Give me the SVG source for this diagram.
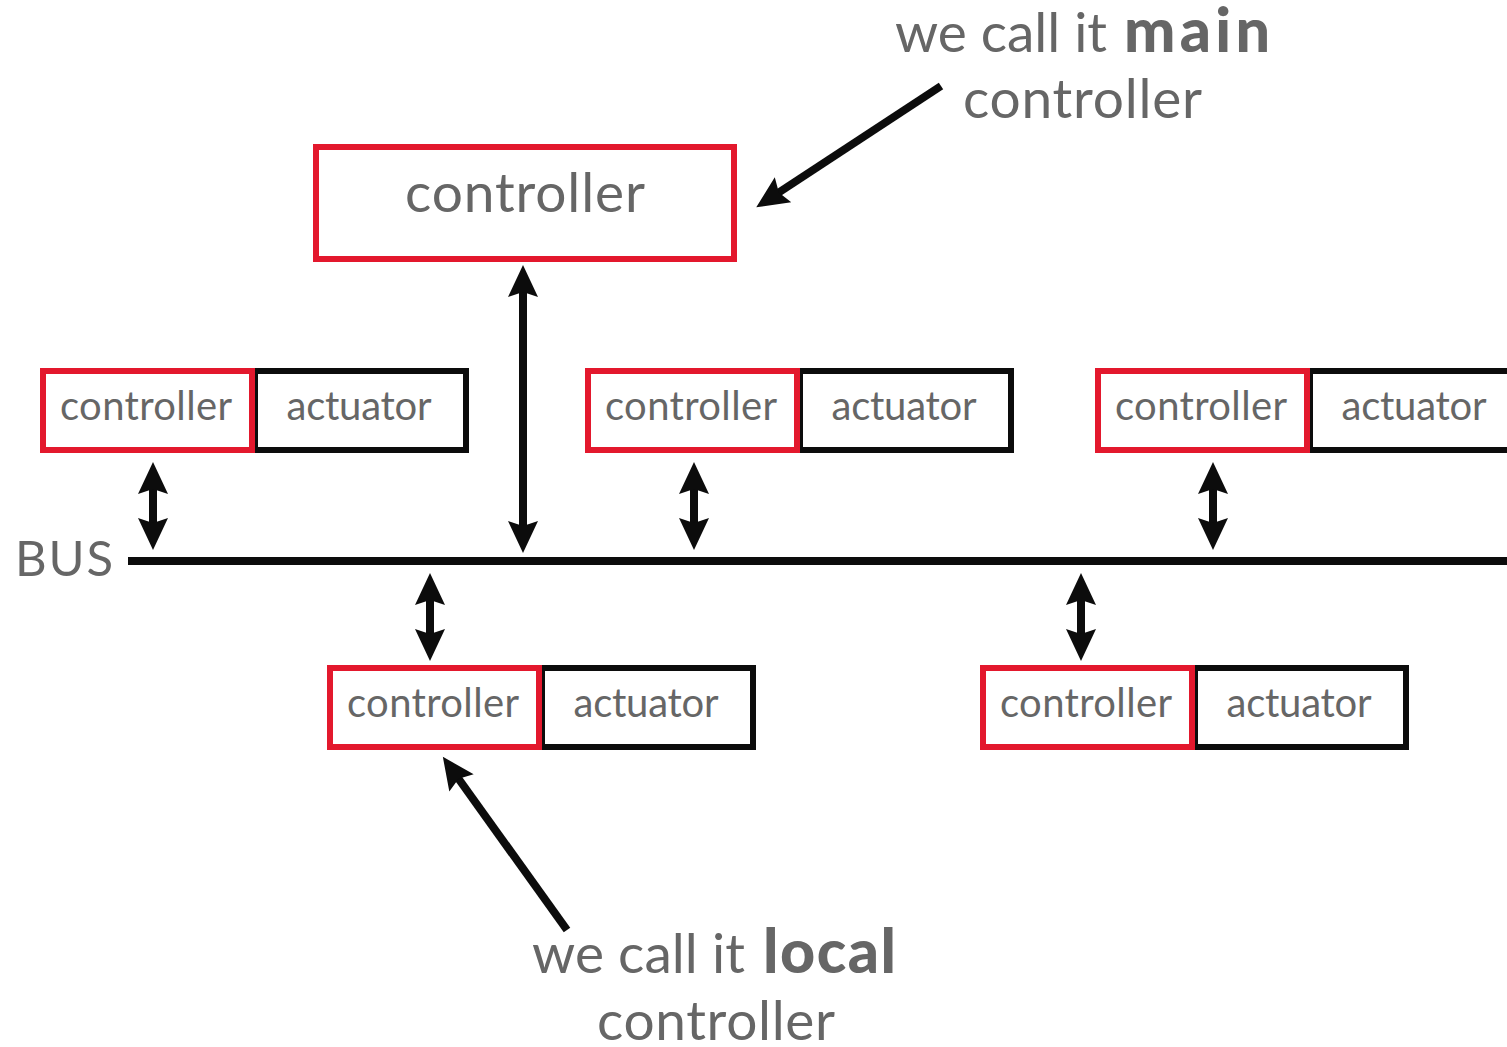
<svg xmlns="http://www.w3.org/2000/svg" width="1507" height="1047" viewBox="0 0 1507 1047">
  <style>
    .ctl { fill: #ffffff; stroke: #e3182d; stroke-width: 6; }
    .act { fill: #ffffff; stroke: #0c0c0c; stroke-width: 6; }
    .lbl { font-family: Lato, "Open Sans", "Liberation Sans", sans-serif; fill: #666666; text-anchor: middle; }
    .note { font-family: Lato, "Open Sans", "Liberation Sans", sans-serif; fill: #666666; font-size: 55px; }
    .sm { font-size: 40px; }
    .lg { font-size: 55px; }
    .bold { font-weight: 900; font-size: 61px; }
    .wire { stroke: #0c0c0c; stroke-width: 8; fill: none; }
  </style>
  <defs>
    <!-- notched filled arrowhead, tip at x=33 -->
    <marker id="head" markerUnits="userSpaceOnUse" markerWidth="34" markerHeight="32" viewBox="0 0 34 32" refX="7" refY="16" orient="auto-start-reverse">
      <path d="M33,16 L1,1 L6,16 L1,31 Z" fill="#0c0c0c"/>
    </marker>
    <!-- controller + actuator pair, origin at outer top-left of the red box -->
    <g id="pair">
      <rect class="act" x="215" y="3" width="211" height="79"/>
      <rect class="ctl" x="3" y="3" width="209" height="79"/>
      <text class="lbl sm" x="106" y="52" textLength="172">controller</text>
      <text class="lbl sm" x="319" y="52" textLength="145">actuator</text>
    </g>
  </defs>

  <rect width="1507" height="1047" fill="#ffffff"/>

  <!-- connectors -->
  <g id="connectors">
    <line class="wire" x1="128" y1="561" x2="1507" y2="561"/>
    <line class="wire" x1="523" y1="291" x2="523" y2="527" marker-start="url(#head)" marker-end="url(#head)"/>
    <line class="wire" x1="153" y1="488" x2="153" y2="524" marker-start="url(#head)" marker-end="url(#head)"/>
    <line class="wire" x1="694" y1="488" x2="694" y2="524" marker-start="url(#head)" marker-end="url(#head)"/>
    <line class="wire" x1="1213" y1="488" x2="1213" y2="524" marker-start="url(#head)" marker-end="url(#head)"/>
    <line class="wire" x1="430" y1="599" x2="430" y2="635" marker-start="url(#head)" marker-end="url(#head)"/>
    <line class="wire" x1="1081" y1="599" x2="1081" y2="635" marker-start="url(#head)" marker-end="url(#head)"/>
    <line class="wire" x1="941" y1="86" x2="778" y2="193" marker-end="url(#head)"/>
    <line class="wire" x1="567" y1="930" x2="458" y2="778" marker-end="url(#head)"/>
  </g>

  <text id="bus-label" class="note" x="15" y="576" textLength="98" style="font-size:49px">BUS</text>

  <g id="main-controller">
    <rect class="ctl" x="316" y="147" width="418" height="112"/>
    <text class="lbl lg" x="525" y="212" textLength="240">controller</text>
  </g>

  <use id="node-a" href="#pair" x="40" y="368"/>
  <use id="node-b" href="#pair" x="585" y="368"/>
  <use id="node-c" href="#pair" x="1095" y="368"/>
  <use id="node-d" href="#pair" x="327" y="665"/>
  <use id="node-e" href="#pair" x="980" y="665"/>

  <g id="note-main">
    <text class="note" y="52"><tspan x="895" textLength="212">we call it</tspan><tspan class="bold" x="1124" textLength="146">main</tspan></text>
    <text class="note" x="963" y="118" textLength="239">controller</text>
  </g>

  <g id="note-local">
    <text class="note" y="973"><tspan x="532" textLength="213">we call it</tspan><tspan class="bold" x="763" textLength="133">local</tspan></text>
    <text class="note" x="597" y="1040" textLength="238">controller</text>
  </g>
</svg>
